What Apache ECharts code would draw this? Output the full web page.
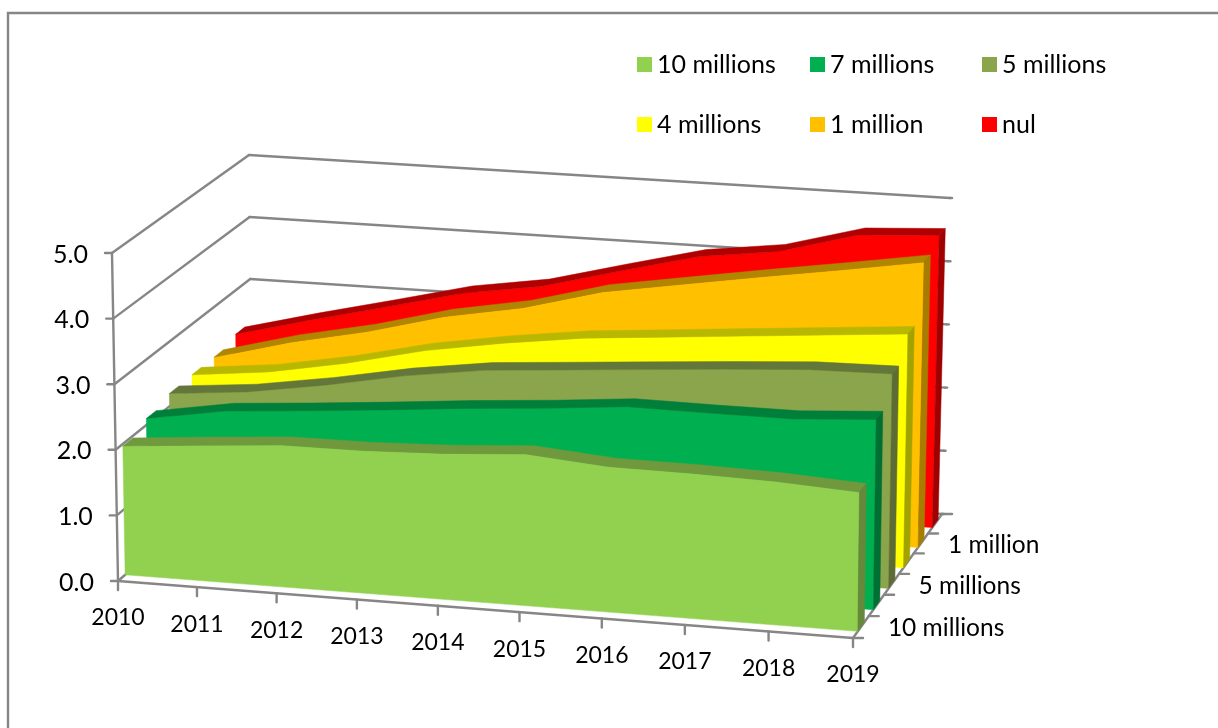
<!DOCTYPE html>
<html><head><meta charset="utf-8">
<style>html,body{margin:0;padding:0;background:#fff}#c{width:1218px;height:728px}</style>
<script src="https://cdn.jsdelivr.net/npm/echarts@6/dist/echarts.min.js"></script>
</head><body><div id="c"></div>
<script>
const years = ['2010','2011','2012','2013','2014','2015','2016','2017','2018','2019'];
const yTicks = [0,1,2,3,4,5];
const depthNames = ['10 millions','7 millions','5 millions','4 millions','1 million','nul'];
const depthLabelled = ['10 millions','5 millions','1 million'];
const v10m = [1.97,2.07,2.16,2.165,2.21,2.29,2.19,2.18,2.15,2.08];
const v7m  = [2.10,2.30,2.39,2.49,2.60,2.69,2.80,2.79,2.79,2.87];
const v5m  = [2.20,2.31,2.50,2.73,2.90,2.99,3.08,3.17,3.25,3.27];
const v4m  = [2.21,2.34,2.56,2.84,3.04,3.20,3.30,3.40,3.50,3.60];
const v1m  = [2.21,2.53,2.78,3.10,3.32,3.65,3.85,4.05,4.24,4.44];
const vNul = [2.30,2.61,2.90,3.20,3.39,3.71,4.02,4.18,4.52,4.59];
const seriesValues = [v10m,v7m,v5m,v4m,v1m,vNul];
const faceColors = ['#92D050','#00B050','#8BA54D','#FFFF00','#FFC000','#FF0000'];
const topColors  = ['#6F993C','#007F3A','#64773A','#B8B800','#B08600','#B00000'];
const sideColors = ['#66883A','#006F33','#5C6C34','#A3A300','#A67D00','#A00000'];
const legendLeft = [637,810,982];
const legendTop = [52,112];

// perspective box of the 3D plot
const floorQuad = [[118,581],[853,638],[942,514],[252,465]];
const roofQuad  = [[112,253],[857,302],[950,198],[249,155]];
function homography(q){
  const [p0,p1,p2,p3]=q;
  const dx1=p1[0]-p2[0],dx2=p3[0]-p2[0],sx=p0[0]-p1[0]+p2[0]-p3[0];
  const dy1=p1[1]-p2[1],dy2=p3[1]-p2[1],sy=p0[1]-p1[1]+p2[1]-p3[1];
  const den=dx1*dy2-dx2*dy1;
  const g=(sx*dy2-dx2*sy)/den,h=(dx1*sy-sx*dy1)/den;
  const a=p1[0]-p0[0]+g*p1[0],b=p3[0]-p0[0]+h*p3[0],c=p0[0];
  const d=p1[1]-p0[1]+g*p1[1],e=p3[1]-p0[1]+h*p3[1],f=p0[1];
  return (u,w)=>{const n=g*u+h*w+1;return [(a*u+b*w+c)/n,(d*u+e*w+f)/n];};
}
const floorH=homography(floorQuad), roofH=homography(roofQuad);
function project(params,api,xv,yv,z){
  const cs=params.coordSys, c=api.coord([xv,yv]);
  const u=(c[0]-cs.x)/cs.width, v=1-(c[1]-cs.y)/cs.height;
  const a=floorH(u,z), b=roofH(u,z);
  return [a[0]+(b[0]-a[0])*v, a[1]+(b[1]-a[1])*v];
}
const GRID='#868686', FONT='Lato', FS=23, FSY=25, FSW=24.5, FSL=25, nDepth=depthNames.length, f0=0.30, f1=0.72;
function seg(a,b){return {type:'line',shape:{x1:a[0],y1:a[1],x2:b[0],y2:b[1]},style:{stroke:GRID,lineWidth:2.4,lineCap:'round'}};}
function txt(t,x,y,align,fs){return {type:'text',x:x,y:y,style:{text:t,fill:'#000',fontSize:fs||FS,fontFamily:FONT,align:align,verticalAlign:'middle'}};}

function renderAxes(params,api){
  const ch=[], P=(x,y,z)=>project(params,api,x,y,z), last=years.length-1;
  yTicks.forEach(t=>{
    const a=P(0,t,0),b=P(0,t,1),c=P(last,t,1);
    ch.push(seg(a,b),seg(b,c),seg([a[0]-7,a[1]],a),seg(c,[c[0]+2,c[1]]));
    ch.push(txt(t.toFixed(1),a[0]-24,a[1]+1.5,'right',FSY));
  });
  ch.push(seg(P(0,0,0),P(0,5,0)));
  ch.push(seg(P(0,0,0),P(last,0,0)));
  ch.push(seg(P(last,0,0),P(last,0,1)));
  years.forEach((y,k)=>{
    const a=P(k,0,0);
    ch.push(seg(a,[a[0],a[1]+9]));
    ch.push(txt(y,a[0],a[1]+37,'center'));
  });
  for(let i=0;i<=nDepth;i++){
    const a=P(last,0,i/nDepth);
    ch.push(seg(a,[a[0]+10,a[1]]));
  }
  depthNames.forEach((n,i)=>{
    if(depthLabelled.indexOf(n)<0) return;
    const a=P(last,0,(i+0.5)/nDepth);
    ch.push(txt(n,a[0]+27,a[1]+1.5,'left',FSW));
  });
  return {type:'group',children:ch};
}
function poly(pts,color){return {type:'polygon',shape:{points:pts},style:{fill:color,stroke:color,lineWidth:0.5}};}
function renderBand(i){
  return function(params,api){
    if(params.dataIndexInside!==0) return null;
    const n=params.dataInsideLength, z0=(i+f0)/nDepth, z1=(i+f1)/nDepth;
    const val=k=>api.value(1,k), xv=k=>api.value(0,k);
    const front=[],back=[];
    for(let k=0;k<n;k++){
      front.push(project(params,api,xv(k),val(k),z0));
      back.push(project(params,api,xv(k),val(k),z1));
    }
    const bl=project(params,api,xv(0),0,z0), br=project(params,api,xv(n-1),0,z0), brb=project(params,api,xv(n-1),0,z1);
    const faces=[];
    faces.push(poly(front.concat([br,bl]),faceColors[i]));
    faces.push(poly(front.concat(back.slice().reverse()),topColors[i]));
    faces.push(poly([front[n-1],back[n-1],brb,br],sideColors[i]));
    return {type:'group',children:faces};
  };
}
const bandSeries=depthNames.map((name,i)=>({
  name:name,type:'custom',coordinateSystem:'cartesian2d',silent:true,
  itemStyle:{color:faceColors[i]},z:10+(nDepth-i),
  encode:{x:0,y:1},renderItem:renderBand(i),
  data:seriesValues[i].map((v,k)=>[k,v])
}));
const legends=depthNames.map((name,i)=>({
  orient:'horizontal',icon:'rect',itemWidth:15,itemHeight:15,selectedMode:false,padding:0,
  left:legendLeft[i%3],top:legendTop[Math.floor(i/3)],data:[name],
  textStyle:{fontFamily:FONT,fontSize:FSL,color:'#000'}
}));
const chart=echarts.init(document.getElementById('c'),null,{renderer:'canvas'});
chart.setOption({
  animation:false,backgroundColor:'#fff',
  grid:{left:0,right:0,top:0,bottom:0},
  xAxis:{type:'category',data:years,boundaryGap:false,show:false},
  yAxis:{type:'value',min:0,max:5,show:false},
  legend:legends,
  graphic:[
    {type:'polyline',silent:true,shape:{points:[[8,728],[8,13],[1218,13]]},style:{fill:'none',stroke:GRID,lineWidth:2.4}}
  ],
  series:[{name:'axes',type:'custom',coordinateSystem:'cartesian2d',silent:true,z:1,
    encode:{x:0,y:1},renderItem:renderAxes,data:[[0,0]]}].concat(bandSeries)
});
</script></body></html>
